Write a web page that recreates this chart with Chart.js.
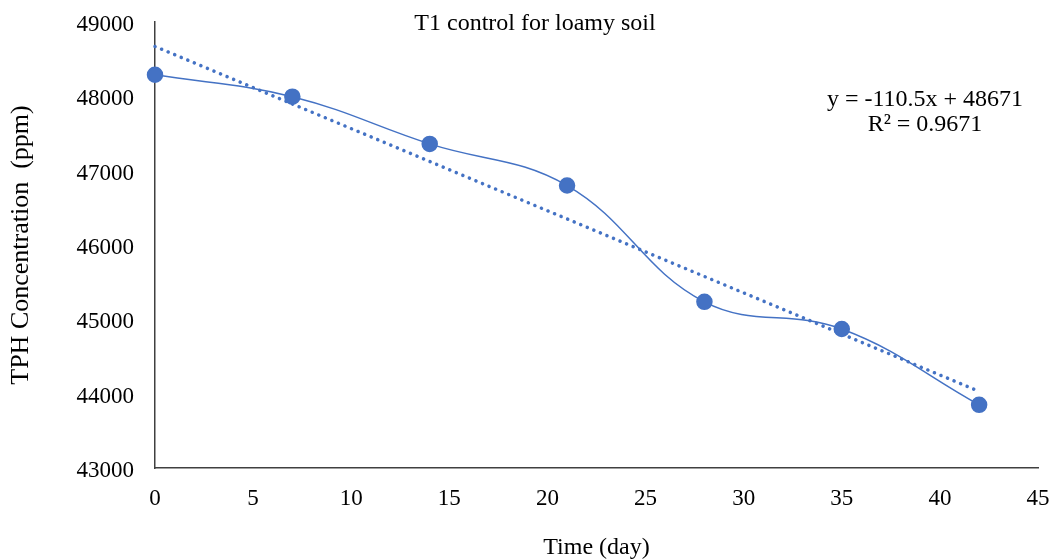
<!DOCTYPE html>
<html>
<head>
<meta charset="utf-8">
<script src="https://cdn.jsdelivr.net/npm/chart.js@4"></script>
<style>
  html, body { margin: 0; padding: 0; background: #fff; }
  #wrap { width: 1051px; height: 559px; }
</style>
</head>
<body>
<div id="wrap"><canvas id="myChart" width="1051" height="559"></canvas></div>
<script>
// day of sampling and measured TPH (ppm)
const days = [0, 7, 14, 21, 28, 35, 42];
const tph = [48290, 47995, 47360, 46800, 45235, 44870, 43850];

// linear trendline from the fitted equation
const slope = -110.5;
const intercept = 48671;
const trendDays = [0, 42];

const xTicks = [0, 5, 10, 15, 20, 25, 30, 35, 40, 45];
const yTicks = [43000, 44000, 45000, 46000, 47000, 48000, 49000];

const blue = '#4472C4';
const serif = 'Liberation Serif, Times New Roman, serif';

const textPlugin = {
    id: 'textPlugin',
    afterDraw(chart) {
        const ctx = chart.ctx;
        ctx.save();
        ctx.fillStyle = '#000';
        ctx.textAlign = 'center';
        ctx.textBaseline = 'middle';
        ctx.font = '24px ' + serif;
        ctx.fillText('T1 control for loamy soil', 535, 24);
        ctx.fillText('y = -110.5x + 48671', 925, 100);
        ctx.fillText('R\u00B2 = 0.9671', 925, 125);
        ctx.restore();
    }
};

new Chart(document.getElementById('myChart').getContext('2d'), {
    type: 'scatter',
    data: {
        datasets: [
            {
                label: 'TPH',
                data: days.map((d, i) => ({ x: d, y: tph[i] })),
                showLine: true,
                borderColor: blue,
                backgroundColor: blue,
                borderWidth: 1.5,
                tension: 0.4,
                pointRadius: 7.5,
                pointHoverRadius: 7.5,
                clip: false,
                order: 1
            },
            {
                label: 'Linear',
                data: trendDays.map(d => ({ x: d, y: slope * d + intercept })),
                showLine: true,
                borderColor: blue,
                borderWidth: 3.5,
                borderDash: [0.1, 7],
                borderCapStyle: 'round',
                pointRadius: 0,
                clip: false,
                order: 2
            }
        ]
    },
    options: {
        responsive: false,
        animation: false,
        layout: { padding: { left: 6, top: 22, right: 13, bottom: 0 } },
        plugins: {
            legend: { display: false },
            tooltip: { enabled: false }
        },
        scales: {
            x: {
                type: 'linear',
                min: 0,
                max: 45,
                afterBuildTicks: axis => { axis.ticks = xTicks.map(v => ({ value: v })); },
                afterFit: axis => { axis.height = 91; axis.paddingLeft = 0; axis.paddingRight = 0; },
                grid: { display: false, drawTicks: false },
                border: { color: '#404040', width: 1.5 },
                ticks: { color: '#000', font: { family: serif, size: 23 }, padding: 17, callback: v => String(v) },
                title: {
                    display: true,
                    text: 'Time (day)',
                    color: '#000',
                    font: { family: serif, size: 24 },
                    padding: { top: 0, bottom: -3 }
                }
            },
            y: {
                min: 43000,
                max: 49000,
                afterBuildTicks: axis => { axis.ticks = yTicks.map(v => ({ value: v })); },
                afterFit: axis => { axis.width = 149; axis.paddingTop = 0; axis.paddingBottom = 0; },
                grid: { display: false, drawTicks: false },
                border: { color: '#404040', width: 1.5 },
                ticks: { color: '#000', font: { family: serif, size: 23 }, padding: 21, labelOffset: 3, callback: v => String(v) },
                title: {
                    display: true,
                    text: 'TPH Concentration  (ppm)',
                    color: '#000',
                    font: { family: serif, size: 26 },
                    padding: { top: 0, bottom: 0 }
                }
            }
        }
    },
    plugins: [textPlugin]
});
</script>
</body>
</html>
